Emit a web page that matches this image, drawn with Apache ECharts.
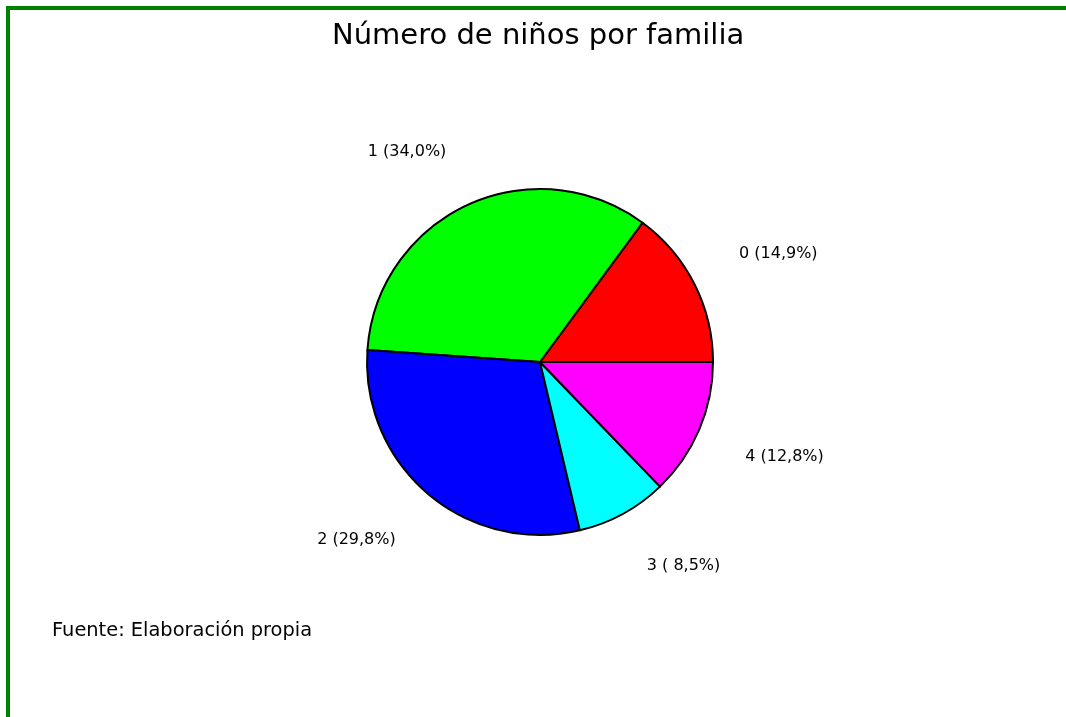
<!DOCTYPE html>
<html>
<head>
<meta charset="utf-8">
<script src="https://cdn.jsdelivr.net/npm/echarts@6/dist/echarts.min.js"></script>
<style>
  html, body { margin: 0; padding: 0; background: #ffffff; }
  #chart { width: 1066px; height: 717px; }
</style>
</head>
<body>
<div id="chart"></div>
<script>
// Number of children per family (share of families, %)
const categories = ['0', '1', '2', '3', '4'];
const shares = [14.9, 34.0, 29.8, 8.5, 12.8];
const sliceColors = ['#ff0000', '#00ff00', '#0000ff', '#00ffff', '#ff00ff'];

const titleText = 'Número de niños por familia';
const sourceText = 'Fuente: Elaboración propia';

const FONT = '"DejaVu Sans", sans-serif';

const pieData = categories.map((c, i) => ({
  name: c,
  value: shares[i],
  itemStyle: { color: sliceColors[i] }
}));

// "3 ( 8,5%)" style labels: comma decimal, padded to four characters
function pctLabel(p) {
  let s = p.value.toFixed(1).replace('.', ',');
  while (s.length < 4) s = ' ' + s;
  return p.name + ' (' + s + '%)';
}

const center = [540, 362];
const pieRadius = 173;
const labelRadius = 223;
const startAngle = 0; // degrees, counter-clockwise from 3 o'clock

// mid-angle of each slice (radians), following the counter-clockwise layout
const total = shares.reduce((a, b) => a + b, 0);
const midAngles = [];
shares.reduce((acc, v) => {
  midAngles.push((startAngle + (acc + v / 2) / total * 360) * Math.PI / 180);
  return acc + v;
}, 0);

// labels hang off the slice's mid-angle, with the corner nearest the pie on that point
function placeLabel(params) {
  const a = midAngles[params.dataIndex];
  const cx = Math.cos(a), sy = Math.sin(a);
  return {
    x: center[0] + cx * labelRadius,
    y: center[1] - sy * labelRadius,
    align: cx >= 0 ? 'left' : 'right',
    verticalAlign: sy >= 0 ? 'bottom' : 'top',
    hideOverlap: false
  };
}

const chart = echarts.init(document.getElementById('chart'), null, { renderer: 'canvas' });
chart.setOption({
  backgroundColor: '#ffffff',
  animation: false,
  title: [
    {
      text: titleText,
      left: 332,
      top: 22,
      padding: 0,
      textStyle: { fontFamily: FONT, fontSize: 29, fontWeight: 'normal', color: '#000000' }
    },
    {
      text: sourceText,
      left: 52,
      top: 621,
      padding: 0,
      textStyle: { fontFamily: FONT, fontSize: 19.4, fontWeight: 'normal', color: '#000000' }
    }
  ],
  graphic: [
    {
      type: 'rect',
      silent: true,
      shape: { x: 8, y: 8, width: 2000, height: 2000 },
      style: { fill: 'none', stroke: '#008000', lineWidth: 4 }
    }
  ],
  series: [
    {
      type: 'pie',
      center: center,
      radius: [0, pieRadius],
      startAngle: startAngle,
      clockwise: false,
      silent: true,
      avoidLabelOverlap: false,
      itemStyle: { borderColor: '#000000', borderWidth: 2 },
      labelLine: { show: false },
      label: {
        show: true,
        position: 'outside',
        formatter: pctLabel,
        fontFamily: FONT,
        fontSize: 16,
        color: '#000000'
      },
      labelLayout: placeLabel,
      data: pieData
    }
  ]
});
</script>
</body>
</html>
